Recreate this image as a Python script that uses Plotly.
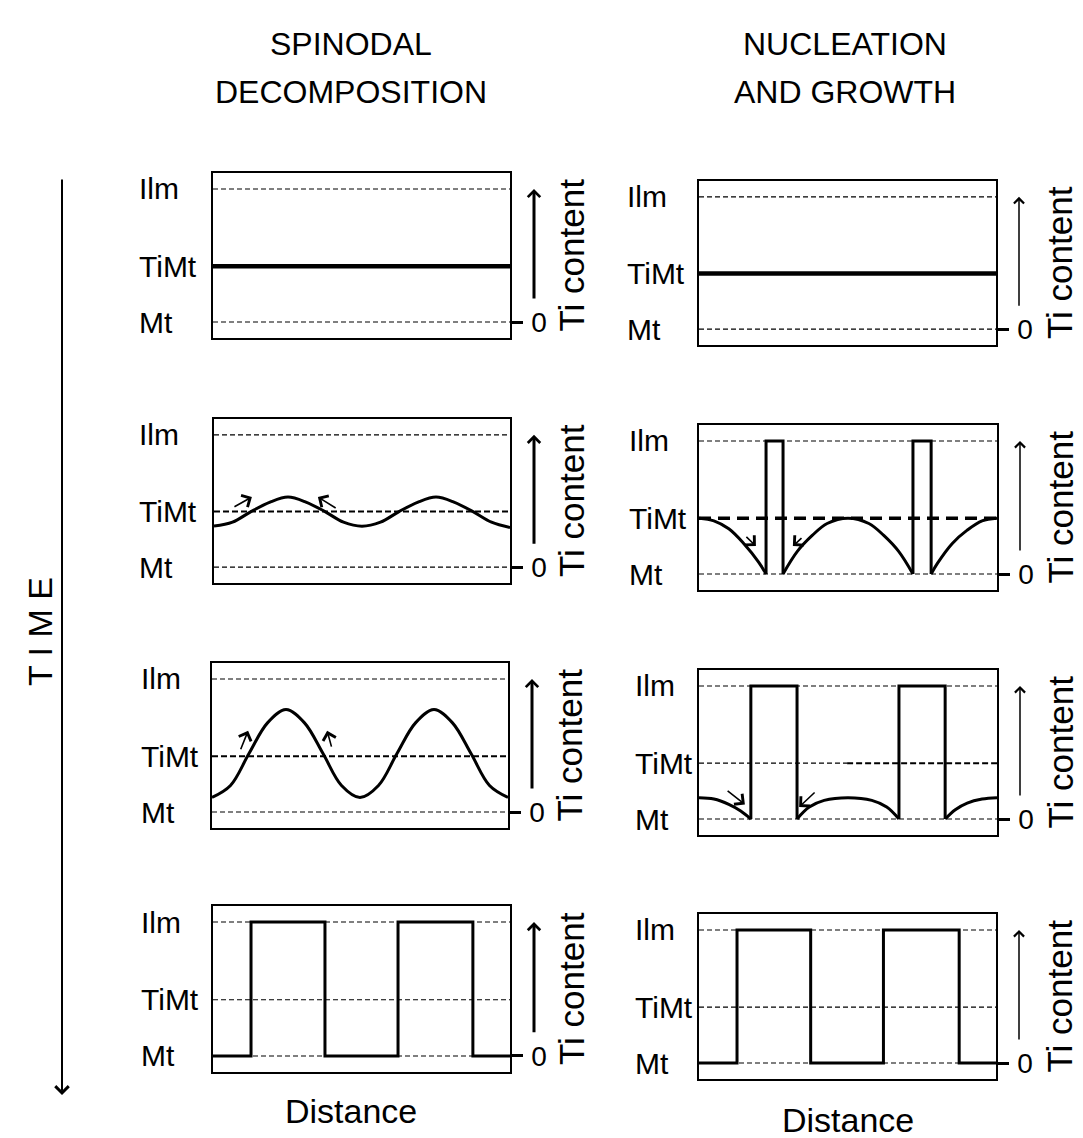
import plotly.graph_objects as go

W, H = 1083, 1138
FONT = "Liberation Sans, Arial, sans-serif"

# ---------------- data ----------------
LEVEL_NAMES = ["Ilm", "TiMt", "Mt"]
LEVEL_VALUES = [1.0, 0.42, 0.0]
Y_RANGE = [-0.12, 1.12]
X_RANGE = [0.0, 1.0]

COLUMN_TITLES = [["SPINODAL", "DECOMPOSITION"], ["NUCLEATION", "AND GROWTH"]]
X_LABEL = "Distance"
Y_LABEL = "Ti content"
TIME_LABEL = "T I M E"
ZERO_TICK = "0"

# Spinodal decomposition (left column), Ti content vs distance
sd_x = [0.0, 0.0625, 0.125, 0.1875, 0.25, 0.3125, 0.375, 0.4375, 0.5,
        0.5625, 0.625, 0.6875, 0.75, 0.8125, 0.875, 0.9375, 1.0]
sd_t0_x = [0.0, 1.0]
sd_t0_y = [0.42, 0.42]
sd_t1_y = [0.31, 0.34, 0.42, 0.49, 0.53, 0.49, 0.42, 0.34, 0.31,
           0.34, 0.42, 0.49, 0.53, 0.49, 0.42, 0.34, 0.30]
sd_t2_y = [0.11, 0.20, 0.44, 0.67, 0.77, 0.67, 0.44, 0.20, 0.11,
           0.20, 0.44, 0.67, 0.77, 0.67, 0.44, 0.20, 0.11]
sd_t3_x = [0.0, 0.128, 0.128, 0.377, 0.377, 0.623, 0.623, 0.875, 0.875, 1.0]
sd_t3_y = [0.0, 0.0, 1.0, 1.0, 0.0, 0.0, 1.0, 1.0, 0.0, 0.0]

# Nucleation and growth (right column)
ng_t0_x = [0.0, 1.0]
ng_t0_y = [0.42, 0.42]

ng_t1_arcs_x = [[0.0, 0.05, 0.10, 0.15, 0.20, 0.225],
                [0.282, 0.33, 0.38, 0.43, 0.50, 0.57, 0.62, 0.67, 0.718],
                [0.779, 0.80, 0.85, 0.90, 0.95, 1.0]]
ng_t1_arcs_y = [[0.42, 0.40, 0.34, 0.23, 0.09, 0.0],
                [0.0, 0.17, 0.29, 0.38, 0.42, 0.38, 0.29, 0.17, 0.0],
                [0.0, 0.08, 0.23, 0.33, 0.40, 0.42]]
ng_t1_spikes_x = [[0.225, 0.225, 0.282, 0.282],
                  [0.718, 0.718, 0.779, 0.779]]

ng_t2_arcs_x = [[0.0, 0.05, 0.10, 0.14, 0.174],
                [0.329, 0.37, 0.42, 0.50, 0.58, 0.63, 0.671],
                [0.826, 0.86, 0.90, 0.95, 1.0]]
ng_t2_arcs_y = [[0.16, 0.15, 0.11, 0.06, 0.0],
                [0.0, 0.09, 0.14, 0.16, 0.14, 0.09, 0.0],
                [0.0, 0.07, 0.12, 0.15, 0.16]]
ng_t2_spikes_x = [[0.174, 0.174, 0.329, 0.329],
                  [0.671, 0.671, 0.826, 0.826]]

spike_y = [0.0, 1.0, 1.0, 0.0]

ng_t3_x = [0.0, 0.128, 0.128, 0.376, 0.376, 0.621, 0.621, 0.876, 0.876, 1.0]
ng_t3_y = [0.0, 0.0, 1.0, 1.0, 0.0, 0.0, 1.0, 1.0, 0.0, 0.0]

# small direction arrows: (panel, tail_x, tail_y, head_x, head_y)
direction_arrows = [
    (2, 0.064, 0.45, 0.128, 0.53),
    (2, 0.416, 0.44, 0.351, 0.53),
    (3, 0.095, 0.46, 0.122, 0.61),
    (3, 0.405, 0.48, 0.389, 0.61),
    (6, 0.154, 0.29, 0.191, 0.21),
    (6, 0.349, 0.28, 0.315, 0.21),
    (7, 0.091, 0.22, 0.154, 0.11),
    (7, 0.393, 0.21, 0.336, 0.09),
]

# ---------------- layout geometry (pixels) ----------------
PANEL_BOX = [
    (213, 173, 510, 338),
    (214, 419, 510, 583),
    (212, 663, 508, 828),
    (213, 906, 510, 1072),
    (699, 181, 996, 345),
    (699, 425, 997, 590),
    (699, 670, 997, 835),
    (699, 914, 996, 1079),
]
LABEL_LEFT = [137, 137, 139, 139, 625, 627, 633, 633]

# reference lines per panel: (level index, (width, dash), x0, x1)
THIN = (1.1, "5px,3px")
MED = (2, "6px,3px")
THICK = (3.5, "12px,7px")
REF_LINES = {
    1: [(0, THIN, 0, 1), (2, THIN, 0, 1)],
    2: [(0, THIN, 0, 1), (1, MED, 0, 1), (2, THIN, 0, 1)],
    3: [(0, THIN, 0, 1), (1, MED, 0, 1), (2, THIN, 0, 1)],
    4: [(0, THIN, 0, 1), (1, THIN, 0, 1), (2, THIN, 0, 1)],
    5: [(0, THIN, 0, 1), (2, THIN, 0, 1)],
    6: [(0, THIN, 0, 1), (1, THICK, 0, 1), (2, THIN, 0, 1)],
    7: [(0, THIN, 0, 1), (1, THIN, 0, 0.497), (1, MED, 0.497, 1), (2, THIN, 0, 1)],
    8: [(0, THIN, 0, 1), (1, THIN, 0, 1), (2, THIN, 0, 1)],
}


def ax_ids(i):
    return ("x" if i == 1 else f"x{i}", "y" if i == 1 else f"y{i}")


fig = go.Figure()


def add_line(i, x, y, width=3, shape="linear"):
    xa, ya = ax_ids(i)
    fig.add_trace(go.Scatter(x=x, y=y, mode="lines",
                             line=dict(color="black", width=width, shape=shape),
                             xaxis=xa, yaxis=ya, showlegend=False, hoverinfo="skip"))


# curves
add_line(1, sd_t0_x, sd_t0_y, width=4.5)
add_line(2, sd_x, sd_t1_y, shape="spline")
add_line(3, sd_x, sd_t2_y, shape="spline")
add_line(4, sd_t3_x, sd_t3_y)
add_line(5, ng_t0_x, ng_t0_y, width=4.5)
for ax_, ay_ in zip(ng_t1_arcs_x, ng_t1_arcs_y):
    add_line(6, ax_, ay_, shape="spline")
for sx in ng_t1_spikes_x:
    add_line(6, sx, spike_y)
for ax_, ay_ in zip(ng_t2_arcs_x, ng_t2_arcs_y):
    add_line(7, ax_, ay_, shape="spline")
for sx in ng_t2_spikes_x:
    add_line(7, sx, spike_y)
add_line(8, ng_t3_x, ng_t3_y)

layout = dict(
    width=W, height=H, autosize=False,
    margin=dict(l=0, r=0, t=0, b=0),
    paper_bgcolor="white", plot_bgcolor="white",
    showlegend=False,
    font=dict(family=FONT, color="black"),
)

shapes = []
annotations = []

for i, (l, t, r, b) in enumerate(PANEL_BOX, start=1):
    xa, ya = ax_ids(i)
    xname = "xaxis" if i == 1 else f"xaxis{i}"
    yname = "yaxis" if i == 1 else f"yaxis{i}"
    layout[xname] = dict(domain=[l / W, r / W], range=X_RANGE, anchor=ya,
                         showline=True, mirror=True, linecolor="black", linewidth=1.5,
                         showgrid=False, zeroline=False, showticklabels=False,
                         ticks="", fixedrange=True)
    layout[yname] = dict(domain=[1 - b / H, 1 - t / H], range=Y_RANGE, anchor=xa,
                         side="right", showline=True, mirror=True,
                         linecolor="black", linewidth=1.5,
                         showgrid=False, zeroline=False,
                         tickmode="array", tickvals=[LEVEL_VALUES[2]], ticktext=[ZERO_TICK],
                         ticks="outside", ticklen=11, tickwidth=3, tickcolor="black",
                         ticklabelstandoff=3,
                         tickfont=dict(size=28, family=FONT, color="black"),
                         fixedrange=True)
    wpx = r - l
    # reference dashed lines
    for lev, (lw, dash), x0, x1 in REF_LINES[i]:
        shapes.append(dict(type="line", xref=f"{xa} domain", yref=ya,
                           x0=x0, x1=x1, y0=LEVEL_VALUES[lev], y1=LEVEL_VALUES[lev],
                           line=dict(color="black", width=lw, dash=dash)))
    # level labels
    for name, val in zip(LEVEL_NAMES, LEVEL_VALUES):
        annotations.append(dict(text=name, xref=f"{xa} domain", yref=ya,
                                x=(LABEL_LEFT[i - 1] - l) / wpx, y=val,
                                xanchor="left", yanchor="middle", showarrow=False,
                                font=dict(size=30, family=FONT, color="black")))
    # Ti content label + arrow
    left_col = i <= 4
    annotations.append(dict(text=Y_LABEL, xref=f"{xa} domain", yref=f"{ya} domain",
                            x=1 + (61 if left_col else 63) / wpx, y=0.5,
                            textangle=-90, xanchor="center", yanchor="middle",
                            showarrow=False,
                            font=dict(size=35, family=FONT, color="black")))
    annotations.append(dict(text="", xref=f"{xa} domain", yref=ya,
                            x=1 + (24 if left_col else 23) / wpx, y=LEVEL_VALUES[0],
                            axref="pixel", ayref=ya, ax=0, ay=0.165,
                            showarrow=True, arrowhead=4,
                            arrowwidth=3 if left_col else 1.5,
                            arrowsize=0.8 if left_col else 1.3,
                            arrowcolor="black"))

# direction arrows
for (p, tx, ty, hx, hy) in direction_arrows:
    xa, ya = ax_ids(p)
    annotations.append(dict(text="", xref=xa, yref=ya, axref=xa, ayref=ya,
                            x=hx, y=hy, ax=tx, ay=ty, showarrow=True,
                            arrowhead=4, arrowwidth=1.6, arrowsize=1.6,
                            arrowcolor="black"))

# column titles
for (line1, line2), cx in zip(COLUMN_TITLES, [351, 845]):
    annotations.append(dict(text=line1, xref="paper", yref="paper", x=cx / W, y=1 - 44 / H,
                            xanchor="center", yanchor="middle", showarrow=False,
                            font=dict(size=32, family=FONT, color="black")))
    annotations.append(dict(text=line2, xref="paper", yref="paper", x=cx / W, y=1 - 92 / H,
                            xanchor="center", yanchor="middle", showarrow=False,
                            font=dict(size=32, family=FONT, color="black")))

# Distance labels
for cx, cy in [(351, 1111), (848, 1120)]:
    annotations.append(dict(text=X_LABEL, xref="paper", yref="paper", x=cx / W, y=1 - cy / H,
                            xanchor="center", yanchor="middle", showarrow=False,
                            font=dict(size=34, family=FONT, color="black")))

# TIME label and arrow
annotations.append(dict(text=TIME_LABEL, xref="paper", yref="paper", x=40 / W, y=1 - 632 / H,
                        textangle=-90, xanchor="center", yanchor="middle", showarrow=False,
                        font=dict(size=34, family=FONT, color="black")))
annotations.append(dict(text="", xref="paper", yref="paper", x=62 / W, y=1 - 1095 / H,
                        ax=0, ay=-(1095 - 178), showarrow=True, arrowhead=4,
                        arrowwidth=2, arrowsize=1.3, arrowcolor="black"))

layout["shapes"] = shapes
layout["annotations"] = annotations
fig.update_layout(**layout)

fig.write_html(
    "out.html",
    config={"displayModeBar": False},
    post_script="document.body.style.margin='0';document.body.style.overflow='hidden';",
)
